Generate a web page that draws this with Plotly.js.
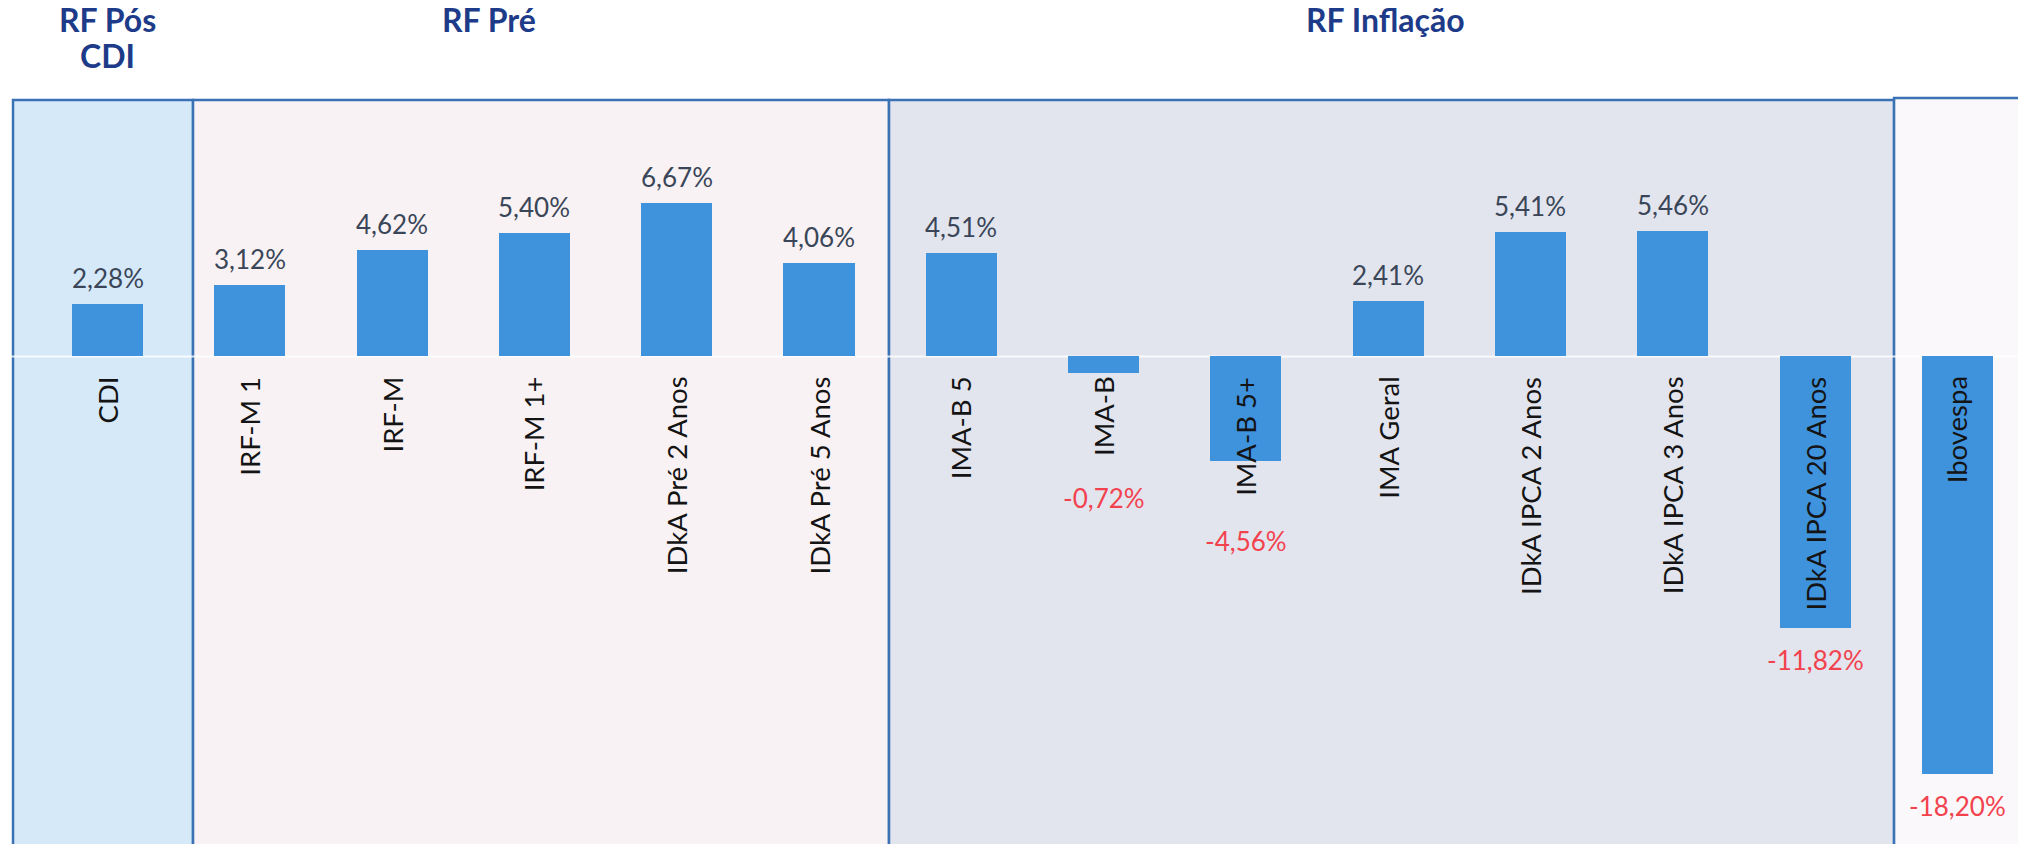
<!DOCTYPE html>
<html>
<head>
<meta charset="utf-8">
<script src="https://cdn.plot.ly/plotly-3.0.1.min.js"></script>
<style>
  html, body { margin: 0; padding: 0; background: #ffffff; }
  #chart { width: 2018px; height: 844px; }
</style>
</head>
<body>
<div id="chart"></div>
<script>
// ---- data ----
const categories = [
  "CDI", "IRF-M 1", "IRF-M", "IRF-M 1+", "IDkA Pré 2 Anos", "IDkA Pré 5 Anos",
  "IMA-B 5", "IMA-B", "IMA-B 5+", "IMA Geral", "IDkA IPCA 2 Anos", "IDkA IPCA 3 Anos",
  "IDkA IPCA 20 Anos", "Ibovespa"
];
const returnsPct = [2.28, 3.12, 4.62, 5.40, 6.67, 4.06, 4.51, -0.72, -4.56, 2.41, 5.41, 5.46, -11.82, -18.20];
const groupNames = ["RF Pós<br>CDI", "RF Pré", "RF Inflação"];

// ---- layout helpers ----
const xIdx = categories.map((_, i) => i);
const fmt = v => v.toFixed(2).replace('.', ',') + '%';

const barColor = '#3f92dc';
const borderColor = '#3b72b6';
const posColor = '#3a4658';
const negColor = '#f2424e';
const font = 'Lato, "Open Sans", sans-serif';

// negative value labels that are pushed below their category label (y in axis units, label centre)
const labelBelowText = { 7: -6.17, 8: -8.02 };

const trace = {
  type: 'bar',
  x: xIdx,
  y: returnsPct,
  width: 0.5,
  marker: { color: barColor, line: { width: 0 } },
  hoverinfo: 'skip'
};

const annotations = [];
// value labels
returnsPct.forEach((v, i) => {
  const a = {
    x: i, xref: 'x', yref: 'y',
    text: fmt(v), showarrow: false,
    font: { family: font, size: 26, color: v >= 0 ? posColor : negColor }
  };
  if (v >= 0) {
    a.y = v; a.yanchor = 'bottom'; a.yshift = 8;
  } else if (labelBelowText[i] !== undefined) {
    a.y = labelBelowText[i]; a.yanchor = 'middle';
  } else {
    a.y = v; a.yanchor = 'middle'; a.yshift = -32;
  }
  annotations.push(a);
});
// category labels (rotated, hanging below zero line)
categories.forEach((c, i) => {
  annotations.push({
    x: i, y: 0, xref: 'x', yref: 'y',
    text: c, showarrow: false, textangle: -90,
    yanchor: 'top', xanchor: 'center', yshift: -18,
    font: { family: font, size: 27.5, color: '#141414' }
  });
});
// group headers (one annotation per line, tighter line spacing)
const headerX = [0, 2.68, 8.98];
groupNames.forEach((g, i) => {
  g.split('<br>').forEach((line, j) => {
    annotations.push({
      x: headerX[i], y: 1.0, xref: 'x', yref: 'paper',
      text: '<b>' + line + '</b>', showarrow: false, borderpad: 0,
      yanchor: 'top', xanchor: 'center', yshift: 1 - j * 36,
      font: { family: font, size: 32, color: '#1d3b88' }
    });
  });
});

// group boxes (x in category units)
const boxEdges = [-0.664, 0.601, 5.492, 12.555, 13.6];
const boxFills = ['#d6e9f8', '#f8f2f4', '#e2e5ee', '#faf8fa'];
const boxTops = [0.8815, 0.8815, 0.8815, 0.884];
const shapes = [];
for (let k = 0; k < 4; k++) {
  shapes.push({
    type: 'rect', layer: 'below', xref: 'x', yref: 'paper',
    x0: boxEdges[k], x1: boxEdges[k + 1], y0: -0.02, y1: boxTops[k],
    fillcolor: boxFills[k], line: { color: borderColor, width: 2.5 }
  });
}
// faint zero line
shapes.push({
  type: 'line', layer: 'below', xref: 'paper', yref: 'y',
  x0: 0, x1: 1, y0: 0, y1: 0,
  line: { color: 'rgba(255,255,255,0.8)', width: 2 }
});

const layout = {
  width: 2018, height: 844,
  margin: { l: 0, r: 0, t: 0, b: 0 },
  paper_bgcolor: '#ffffff',
  plot_bgcolor: 'rgba(0,0,0,0)',
  showlegend: false,
  xaxis: { range: [-0.7555, 13.426], visible: false, fixedrange: true },
  yaxis: { range: [-21.24, 15.53], visible: false, fixedrange: true, zeroline: false },
  annotations: annotations,
  shapes: shapes,
  bargap: 0
};

Plotly.newPlot('chart', [trace], layout, { staticPlot: true, displayModeBar: false });
</script>
</body>
</html>
